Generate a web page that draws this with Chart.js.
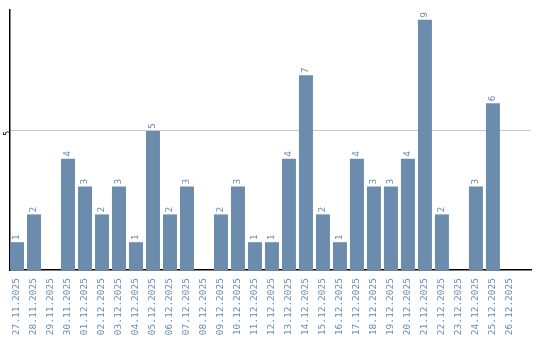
<!DOCTYPE html>
<html>
<head>
<meta charset="utf-8">
<script src="https://cdn.jsdelivr.net/npm/chart.js@4/dist/chart.umd.min.js"></script>
<style>
  html, body { margin: 0; padding: 0; background: #fff; }
  #wrap { width: 540px; height: 340px; }
</style>
</head>
<body>
<div id="wrap"><canvas id="chart"></canvas></div>
<script>
const days = ['27.11.2025', '28.11.2025', '29.11.2025', '30.11.2025', '01.12.2025', '02.12.2025',
  '03.12.2025', '04.12.2025', '05.12.2025', '06.12.2025', '07.12.2025', '08.12.2025',
  '09.12.2025', '10.12.2025', '11.12.2025', '12.12.2025', '13.12.2025', '14.12.2025',
  '15.12.2025', '16.12.2025', '17.12.2025', '18.12.2025', '19.12.2025', '20.12.2025',
  '21.12.2025', '22.12.2025', '23.12.2025', '24.12.2025', '25.12.2025', '26.12.2025'];
const counts = [1, 2, 0, 4, 3, 2, 3, 1, 5, 2, 3, 0, 2, 3, 1, 1, 4, 7, 2, 1, 4, 3, 3, 4, 9, 2, 0, 3, 6, 0];
const yTicks = [5];

const barColor = '#6b8cad';
const monoFont = '"DejaVu Sans Mono", monospace';

// value labels over the bars, turned to read upwards
const barLabels = {
  id: 'barLabels',
  afterDatasetsDraw(chart) {
    const ctx = chart.ctx;
    const meta = chart.getDatasetMeta(0);
    ctx.save();
    ctx.fillStyle = barColor;
    ctx.font = '9.5px ' + monoFont;
    ctx.textAlign = 'left';
    ctx.textBaseline = 'middle';
    meta.data.forEach((bar, i) => {
      const v = counts[i];
      if (!v) return;
      ctx.save();
      ctx.translate(bar.x, bar.y - 2);
      ctx.rotate(-Math.PI / 2);
      ctx.fillText(String(v), 0, 0);
      ctx.restore();
    });
    ctx.restore();
  }
};

new Chart(document.getElementById('chart'), {
  type: 'bar',
  data: {
    datasets: [{
      // empty days get no bar at all
      data: counts.map((v, i) => ({ x: i, y: v || null })),
      backgroundColor: barColor,
      barPercentage: 14 / 17,
      categoryPercentage: 1,
      borderWidth: 0
    }]
  },
  options: {
    responsive: true,
    maintainAspectRatio: false,
    animation: false,
    layout: { padding: { top: 10, right: 9, left: 0, bottom: 0 } },
    plugins: { legend: { display: false }, tooltip: { enabled: false } },
    scales: {
      x: {
        type: 'linear',
        offset: false,
        min: -7 / 17,
        max: 30.24,
        afterBuildTicks: s => { s.ticks = days.map((d, i) => ({ value: i })); },
        afterFit: s => { s.height = 70; },
        grid: { display: false, drawTicks: false },
        border: { display: true, color: '#000', width: 1.5 },
        ticks: {
          autoSkip: false,
          minRotation: 90,
          maxRotation: 90,
          padding: 8,
          color: barColor,
          font: { family: monoFont, size: 9.5 },
          callback: v => days[v]
        }
      },
      y: {
        min: 0,
        max: 9.35,
        afterBuildTicks: s => { s.ticks = yTicks.map(v => ({ value: v })); },
        afterFit: s => { s.width = 10; },
        grid: { color: '#c8c8c8', drawTicks: false },
        border: { display: true, color: '#000', width: 1.5 },
        ticks: {
          minRotation: 90,
          maxRotation: 90,
          padding: 2,
          color: '#000',
          font: { family: monoFont, size: 8 }
        }
      }
    }
  },
  plugins: [barLabels]
});
</script>
</body>
</html>
